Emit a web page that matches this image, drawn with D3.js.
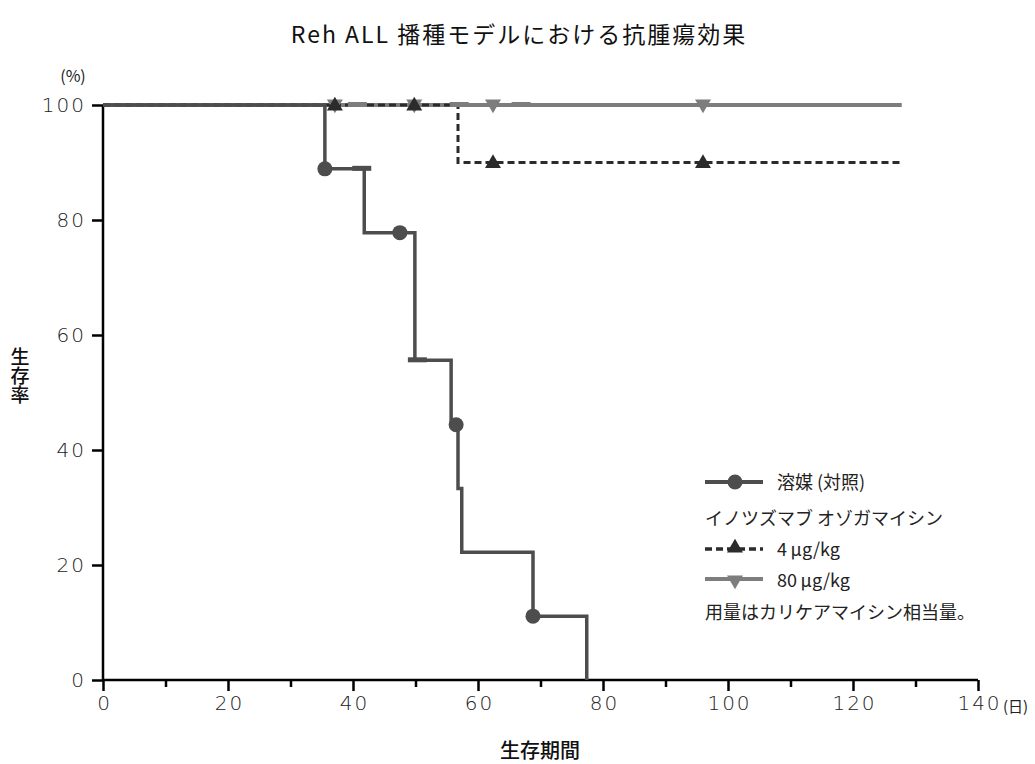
<!DOCTYPE html>
<html>
<head>
<meta charset="utf-8">
<script src="https://cdn.jsdelivr.net/npm/d3@7"></script>
<style>
  body { margin: 0; background: #fff; }
  svg text { font-family: "Noto Sans CJK JP", "Noto Sans", sans-serif; }
  svg .tick text { font-family: "DejaVu Sans", sans-serif; font-size: 20px; font-weight: 200; letter-spacing: 2px; }
</style>
</head>
<body>
<div id="chart"></div>
<script>
// data (days, % survival)
const xTicks = [0, 20, 40, 60, 80, 100, 120, 140];
const yTicks = [0, 20, 40, 60, 80, 100];

// vehicle (control) step curve
const vehicleSteps = [
    { t: 0, s: 100 }, { t: 35.5, s: 88.9 }, { t: 41.8, s: 77.8 }, { t: 49.9, s: 55.6 },
    { t: 55.7, s: 44.4 }, { t: 56.8, s: 33.3 }, { t: 57.4, s: 22.2 }, { t: 68.8, s: 11.1 },
    { t: 77.4, s: 0 }
];
const vehicleMarkers = [{ t: 35.5, s: 88.9 }, { t: 47.5, s: 77.8 }, { t: 56.5, s: 44.4 }, { t: 68.8, s: 11.1 }];
const vehicleCensor = [{ t: 41.4, s: 88.9 }, { t: 50.3, s: 55.6 }];

// 4 µg/kg
const lowSteps = [{ t: 0, s: 100 }, { t: 56.8, s: 90 }, { t: 127.8, s: 90 }];
const lowMarkers = [{ t: 37.1, s: 100 }, { t: 49.8, s: 100 }, { t: 62.4, s: 90 }, { t: 96, s: 90 }];

// 80 µg/kg
const highSteps = [{ t: 0, s: 100 }, { t: 127.8, s: 100 }];
const highMarkers = [{ t: 37.1, s: 100 }, { t: 49.8, s: 100 }, { t: 62.4, s: 100 }, { t: 96, s: 100 }];
const highCensor = [{ t: 40.7, s: 100 }, { t: 57.0, s: 100 }, { t: 66.9, s: 100 }];

const legendLabels = ["溶媒 (対照)", "イノツズマブ オゾガマイシン", "4\u2009μg/kg", "80\u2009μg/kg", "用量はカリケアマイシン相当量。"];

const colVehicle = "#4d4d4d", colLow = "#2b2b2b", colHigh = "#7d7d7d";

const margin = { top: 105, right: 57, bottom: 84, left: 103 };
const width = 1035 - margin.left - margin.right;
const height = 764 - margin.top - margin.bottom;

const root = d3.select("#chart").append("svg")
    .attr("width", 1035).attr("height", 764);
const svg = root.append("g").attr("transform", `translate(${margin.left},${margin.top})`);

const x = d3.scaleLinear().domain([0, 140]).range([0, width]);
const y = d3.scaleLinear().domain([0, 100]).range([height, 0]);

// axes
const xAxis = svg.append("g").attr("transform", `translate(0,${height})`)
    .call(d3.axisBottom(x).tickValues(d3.range(0, 141, 10)).tickSize(11).tickPadding(5)
        .tickFormat(d => xTicks.includes(d) ? d : ""));
xAxis.selectAll(".tick line").attr("y2", d => xTicks.includes(d) ? 11 : 7);
const yAxis = svg.append("g")
    .call(d3.axisLeft(y).tickValues(yTicks).tickSize(11).tickPadding(6));
[xAxis, yAxis].forEach(a => {
    a.attr("font-size", null).attr("font-family", null);
    a.select(".domain").attr("stroke-width", 2.5);
    a.selectAll(".tick line").attr("stroke-width", 2.5);
    a.selectAll(".tick text").attr("fill", "#222");
});
xAxis.selectAll(".tick text").attr("dx", "1px");
xAxis.select(".domain").attr("d", `M0,0H${width}`);
yAxis.select(".domain").attr("d", `M0,${height}V0`);

// step lines
const line = d3.line().curve(d3.curveStepAfter).x(d => x(d.t)).y(d => y(d.s));
svg.append("path").datum(highSteps).attr("fill", "none").attr("stroke", colHigh)
    .attr("stroke-width", 4).attr("d", line);
svg.append("path").datum(lowSteps).attr("fill", "none").attr("stroke", colLow)
    .attr("stroke-width", 3).attr("stroke-dasharray", "7,4").attr("d", line);
svg.append("path").datum(vehicleSteps).attr("fill", "none").attr("stroke", colVehicle)
    .attr("stroke-width", 3.5).attr("d", line);

// censor bars
function censor(data, color) {
    svg.selectAll(null).data(data).enter().append("rect")
        .attr("x", d => x(d.t) - 9.5).attr("y", d => y(d.s) - 3)
        .attr("width", 19).attr("height", 5).attr("fill", color);
}
censor(vehicleCensor, colVehicle);
censor(highCensor, colHigh);

// markers
const triUp = d3.symbol().type(d3.symbolTriangle).size(110);
svg.selectAll(null).data(highMarkers).enter().append("path")
    .attr("d", triUp).attr("fill", colHigh)
    .attr("transform", d => `translate(${x(d.t)},${y(d.s) - 1}) rotate(180)`);
svg.selectAll(null).data(lowMarkers).enter().append("path")
    .attr("d", triUp).attr("fill", colLow)
    .attr("transform", d => `translate(${x(d.t)},${y(d.s) + 1})`);
svg.selectAll(null).data(vehicleMarkers).enter().append("circle")
    .attr("cx", d => x(d.t)).attr("cy", d => y(d.s)).attr("r", 7.5).attr("fill", colVehicle);

// labels
root.append("text").attr("x", 519).attr("y", 43).attr("text-anchor", "middle")
    .style("font-size", "23px").style("letter-spacing", "2px").attr("fill", "#111")
    .text("Reh ALL 播種モデルにおける抗腫瘍効果");
root.append("text").attr("x", 73).attr("y", 82).attr("text-anchor", "middle")
    .style("font-size", "16px").attr("fill", "#222").text("(%)");
root.append("text").attr("x", 1003).attr("y", 712).attr("text-anchor", "start")
    .style("font-size", "15px").attr("fill", "#222").text("(日)");
root.append("text").attr("x", 540).attr("y", 758).attr("text-anchor", "middle")
    .style("font-size", "20px").style("font-weight", 500).attr("fill", "#111").text("生存期間");
root.append("text").attr("x", 20).attr("y", 376).attr("text-anchor", "middle")
    .style("writing-mode", "vertical-rl").style("font-size", "19px").style("font-weight", 500)
    .attr("fill", "#111").text("生存率");

// legend
const lg = root.append("g").attr("transform", "translate(705,0)");
lg.append("line").attr("x1", 0).attr("x2", 58).attr("y1", 482).attr("y2", 482)
    .attr("stroke", colVehicle).attr("stroke-width", 4);
lg.append("circle").attr("cx", 30).attr("cy", 482).attr("r", 7.5).attr("fill", colVehicle);
lg.append("line").attr("x1", 0).attr("x2", 58).attr("y1", 549).attr("y2", 549)
    .attr("stroke", colLow).attr("stroke-width", 3.5).attr("stroke-dasharray", "7,4");
lg.append("path").attr("d", triUp).attr("fill", colLow).attr("transform", "translate(30,548)");
lg.append("line").attr("x1", 0).attr("x2", 58).attr("y1", 579).attr("y2", 579)
    .attr("stroke", colHigh).attr("stroke-width", 4);
lg.append("path").attr("d", triUp).attr("fill", colHigh).attr("transform", "translate(30,580) rotate(180)");

const legendPos = [[72, 489], [0, 525], [72, 556], [72, 587], [0, 619]];
legendLabels.forEach((t, i) => {
    lg.append("text").attr("x", legendPos[i][0]).attr("y", legendPos[i][1])
        .style("font-size", "18px").attr("fill", "#222").text(t);
});
</script>
</body>
</html>
